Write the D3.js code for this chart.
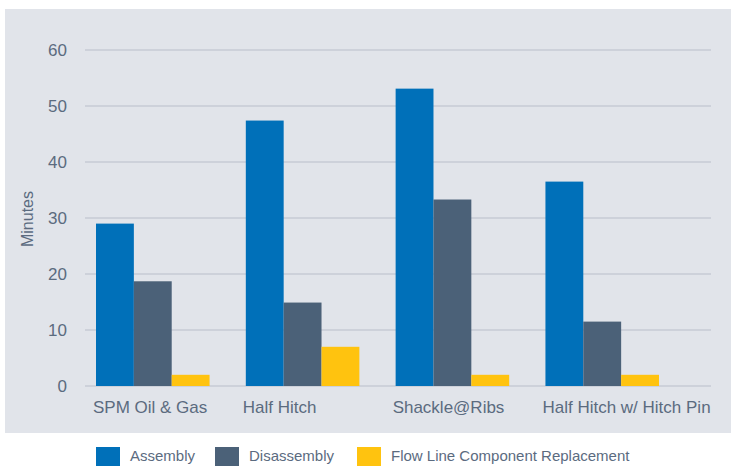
<!DOCTYPE html>
<html>
<head>
<meta charset="utf-8">
<script src="https://cdn.jsdelivr.net/npm/d3@7"></script>
<style>
  body { margin: 0; background: #fff; }
  text { font-family: "Liberation Sans", Arial, sans-serif; fill: #5b6b7f; }
</style>
</head>
<body>
<svg id="chart" width="731" height="466"></svg>
<script>
// data
var categories = ["SPM Oil & Gas", "Half Hitch", "Shackle@Ribs", "Half Hitch w/ Hitch Pin"];
var seriesNames = ["Assembly", "Disassembly", "Flow Line Component Replacement"];
var assembly = [29, 47.4, 53.1, 36.5];
var disassembly = [18.7, 14.9, 33.3, 11.5];
var flowLine = [2, 7, 2, 2];
var yTicks = [0, 10, 20, 30, 40, 50, 60];

var colors = ["#0070b9", "#4b6178", "#ffc30f"];
var seriesValues = [assembly, disassembly, flowLine];

var svg = d3.select("#chart");

// gray panel behind the plot
svg.append("rect")
  .attr("x", 5).attr("y", 9)
  .attr("width", 726).attr("height", 424)
  .attr("fill", "#e1e4ea");

var scales = {
  "x": d3.scaleBand()
    .domain(categories)
    .range([96, 659])
    .paddingInner(0.242)
    .paddingOuter(0)
    .align(0),
  "y": d3.scaleLinear()
    .domain([0, 60])
    .range([386, 50])
};
scales.sub = d3.scaleBand()
  .domain(seriesNames)
  .range([0, scales.x.bandwidth()]);

// gridlines
svg.append("g")
  .selectAll("line")
  .data(yTicks).enter()
  .append("line")
  .attr("x1", 85).attr("x2", 711)
  .attr("y1", (d) => scales.y(d)).attr("y2", (d) => scales.y(d))
  .attr("stroke", "#c6cbd4")
  .attr("stroke-width", 1.5);

// y tick labels
svg.append("g")
  .selectAll("text")
  .data(yTicks).enter()
  .append("text")
  .attr("x", 67)
  .attr("y", (d) => scales.y(d))
  .attr("dy", "0.36em")
  .attr("text-anchor", "end")
  .attr("font-size", 17)
  .text((d) => d);

// bars
var rows = categories.map((c, i) => ({
  cat: c,
  vals: seriesNames.map((s, j) => ({ name: s, value: seriesValues[j][i], color: colors[j] }))
}));

svg.append("g")
  .selectAll("g")
  .data(rows).enter()
  .append("g")
  .attr("transform", (d) => "translate(" + scales.x(d.cat) + ",0)")
  .selectAll("rect")
  .data((d) => d.vals).enter()
  .append("rect")
  .attr("x", (d) => scales.sub(d.name))
  .attr("width", scales.sub.bandwidth())
  .attr("y", (d) => scales.y(d.value))
  .attr("height", (d) => scales.y(0) - scales.y(d.value))
  .attr("fill", (d) => d.color);

// category labels, left aligned under each group
svg.append("g")
  .selectAll("text")
  .data(categories).enter()
  .append("text")
  .attr("x", (d) => scales.x(d) - 3)
  .attr("y", 413)
  .attr("font-size", 17)
  .text((d) => d);

// y axis title
svg.append("text")
  .attr("transform", "translate(33,219) rotate(-90)")
  .attr("text-anchor", "middle")
  .attr("font-size", 16)
  .text("Minutes");

// legend
var legendX = [96, 215, 357];
var legend = svg.append("g")
  .selectAll("g")
  .data(seriesNames).enter()
  .append("g")
  .attr("transform", (d, i) => "translate(" + legendX[i] + ",447)");
legend.append("rect")
  .attr("width", 24).attr("height", 24)
  .attr("fill", (d, i) => colors[i]);
legend.append("text")
  .attr("x", 34).attr("y", 14)
  .attr("font-size", 15)
  .text((d) => d);
</script>
</body>
</html>
